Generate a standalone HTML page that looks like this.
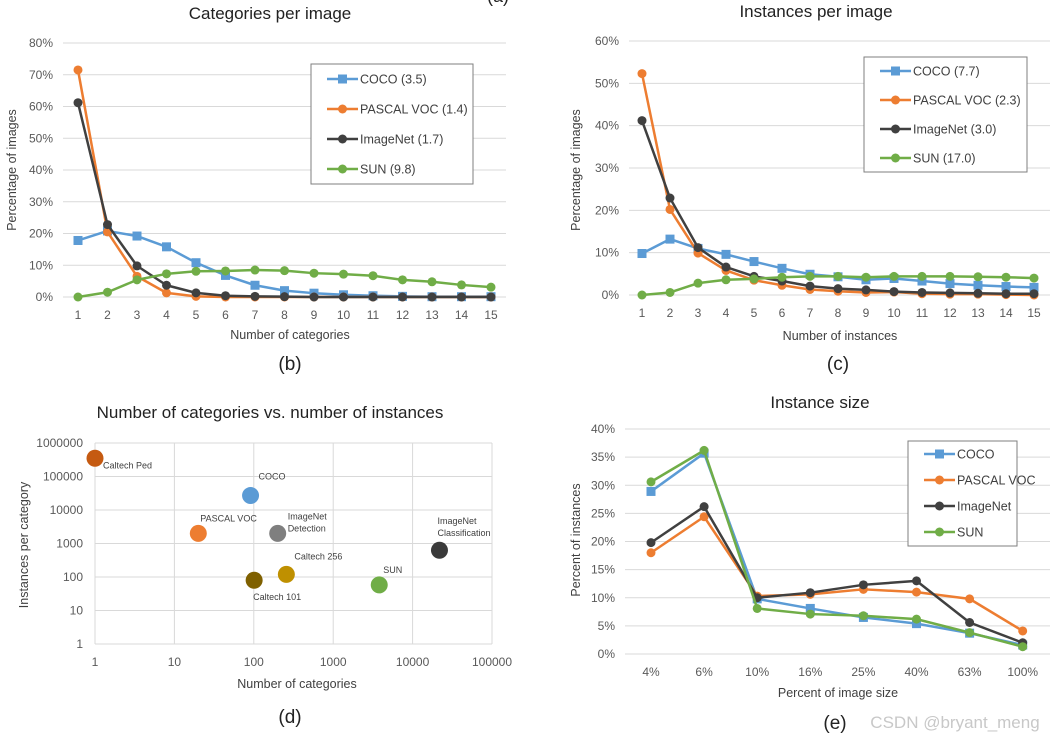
<!DOCTYPE html>
<html><head><meta charset="utf-8"><style>
html,body{margin:0;padding:0;background:#fff;}
svg{display:block;font-family:"Liberation Sans","DejaVu Sans",sans-serif;}
</style></head><body>
<svg id="fig" width="1057" height="740" viewBox="0 0 1057 740"></svg>
<script>
// ---- chart (b) data ----
const bCats = [1,2,3,4,5,6,7,8,9,10,11,12,13,14,15];
const bCoco = [17.8,20.8,19.2,15.8,10.8,6.8,3.7,2,1.2,0.7,0.4,0.2,0.1,0.1,0.1];
const bVoc = [71.5,20.5,6.5,1.3,0.2,0,0,0,0,0,0,0,0,0,0];
const bImnet = [61.2,22.8,9.8,3.7,1.3,0.4,0.2,0.1,0,0,0,0,0,0,0];
const bSun = [0,1.5,5.4,7.3,8.1,8.2,8.5,8.3,7.5,7.2,6.7,5.4,4.8,3.8,3.1];
const bTicks = [0,10,20,30,40,50,60,70,80];
const bLegend = ["COCO (3.5)","PASCAL VOC (1.4)","ImageNet (1.7)","SUN (9.8)"];
// ---- chart (c) data ----
const cCats = [1,2,3,4,5,6,7,8,9,10,11,12,13,14,15];
const cCoco = [9.8,13.2,11,9.6,7.9,6.3,4.9,4.3,3.6,3.9,3.3,2.7,2.3,2,1.8];
const cVoc = [52.3,20.2,9.9,5.8,3.5,2.3,1.3,0.9,0.6,0.7,0.3,0.2,0.2,0.1,0];
const cImnet = [41.2,22.9,11.2,6.6,4.4,3.3,2.1,1.5,1.2,0.8,0.6,0.5,0.4,0.3,0.3];
const cSun = [0,0.6,2.8,3.6,3.8,4.2,4.4,4.4,4.2,4.4,4.4,4.4,4.3,4.2,4.0];
const cTicks = [0,10,20,30,40,50,60];
const cLegend = ["COCO (7.7)","PASCAL VOC (2.3)","ImageNet (3.0)","SUN (17.0)"];
// ---- chart (d) data ----
const dNames = ["Caltech Ped","COCO","PASCAL VOC","ImageNet Detection","ImageNet Classification","Caltech 256","Caltech 101","SUN"];
const dCategories = [1,91,20,200,21800,257,101,3800];
const dInstances = [350000,27000,2000,2000,630,120,80,58];
const dColors = ["#c55a11","#5b9bd5","#ed7d31","#7f7f7f","#3a3a3a","#bf9000","#7f6000","#70ad47"];
const dXTicks = [1,10,100,1000,10000,100000];
const dYTicks = [1,10,100,1000,10000,100000,1000000];
// ---- chart (e) data ----
const eCats = ["4%","6%","10%","16%","25%","40%","63%","100%"];
const eCoco = [28.9,35.7,9.8,8.1,6.5,5.4,3.7,1.6];
const eVoc = [18,24.4,10.3,10.6,11.5,11,9.8,4.1];
const eImnet = [19.8,26.2,10,10.9,12.3,13,5.6,2];
const eSun = [30.6,36.2,8.1,7.1,6.8,6.2,3.8,1.3];
const eTicks = [0,5,10,15,20,25,30,35,40];
const eLegend = ["COCO","PASCAL VOC","ImageNet","SUN"];

const NS="http://www.w3.org/2000/svg";
const svg=document.getElementById('fig');
const COLORS=["#5b9bd5","#ed7d31","#404040","#70ad47"];
function mk(tag,attrs,parent,text){const e=document.createElementNS(NS,tag);for(const k in attrs)e.setAttribute(k,attrs[k]);if(text!==undefined)e.textContent=text;(parent||svg).appendChild(e);return e;}

function lineChart(o){
  const g=mk('g',{});
  
  
  const y=v=>o.y0-(v-o.ymin)/(o.ymax-o.ymin)*(o.y0-o.y1);
  const x=i=>o.x0+i*o.step;
  o.ticks.forEach(t=>{
    const gl=mk('line',{x1:o.gx0,x2:o.gx1,y1:y(t),y2:y(t),stroke:'#d9d9d9','stroke-width':1},g);
    
    
    const tl=mk('text',{x:o.gx0-10,y:y(t)+4,'text-anchor':'end','font-size':12,fill:'#595959'},g,t+'%');
    
    
  });
  o.cats.forEach((c,i)=>{
    const tl=mk('text',{x:x(i),y:o.y0+22,'text-anchor':'middle','font-size':12,fill:'#595959'},g,c);
    
    
  });
  o.series.forEach((s,si)=>{
    const pts=s.map((v,i)=>x(i)+','+y(v)).join(' ');
    const pl=mk('polyline',{points:pts,fill:'none',stroke:COLORS[si],'stroke-width':2.5,'stroke-linejoin':'round'},g);
    
    
    s.forEach((v,i)=>{
      let m;
      if(si===0&&o.square) m=mk('rect',{x:x(i)-4.5,y:y(v)-4.5,width:9,height:9,fill:COLORS[si]},g);
      else m=mk('circle',{cx:x(i),cy:y(v),r:4.5,fill:COLORS[si]},g);
      
      
    });
  });
  // legend
  const L=o.legend;
  const lb=mk('rect',{x:L.x,y:L.y,width:L.w,height:L.h,fill:'#fff',stroke:'#7f7f7f','stroke-width':1},g);
  
  
  o.labels.forEach((t,i)=>{
    const ly=L.y+L.top+i*L.gap;
    const ll=mk('line',{x1:L.x+16,x2:L.x+47,y1:ly,y2:ly,stroke:COLORS[i],'stroke-width':2.5},g);
    
    
    if(i===0&&o.square) mk('rect',{x:L.x+27,y:ly-4.5,width:9,height:9,fill:COLORS[i]},g);
    else mk('circle',{cx:L.x+31.5,cy:ly,r:4.5,fill:COLORS[i]},g);
    const lt=mk('text',{x:L.x+49,y:ly+4.5,'font-size':12.5,fill:'#404040'},g,t);
    
    
  });
}

function text(x,y,s,size,name,opts){
  const t=mk('text',Object.assign({x:x,y:y,'text-anchor':'middle','font-size':size,fill:'#222'},opts||{}),svg,s);
  
  
  return t;
}

// (b)
lineChart({name:'chart-categories-per-image',y0:297,y1:43,ymin:0,ymax:80,x0:78,step:29.5,gx0:63,gx1:506,
  ticks:bTicks,cats:bCats,series:[bCoco,bVoc,bImnet,bSun],square:true,labels:bLegend,
  legend:{x:311,y:64,w:162,h:120,top:15,gap:30}});
text(270,19,'Categories per image',17,'chart-b-title');
text(498,2,'(a)',18,'panel-a-label');
text(290,339,'Number of categories',12.5,'chart-b-x-axis-title',{fill:'#404040'});
text(16,170,'Percentage of images',12.5,'chart-b-y-axis-title',{fill:'#404040',transform:'rotate(-90 16 170)'});
text(290,370,'(b)',19,'panel-b-label');

// (c)
lineChart({name:'chart-instances-per-image',y0:295,y1:41,ymin:0,ymax:60,x0:642,step:28,gx0:629,gx1:1050,
  ticks:cTicks,cats:cCats,series:[cCoco,cVoc,cImnet,cSun],square:true,labels:cLegend,
  legend:{x:864,y:57,w:163,h:115,top:14,gap:29}});
text(816,17,'Instances per image',17,'chart-c-title');
text(840,340,'Number of instances',12.5,'chart-c-x-axis-title',{fill:'#404040'});
text(580,170,'Percentage of images',12.5,'chart-c-y-axis-title',{fill:'#404040',transform:'rotate(-90 580 170)'});
text(838,370,'(c)',19,'panel-c-label');

// (e)
lineChart({name:'chart-instance-size',y0:654,y1:429,ymin:0,ymax:40,x0:651,step:53.1,gx0:625,gx1:1050,
  ticks:eTicks,cats:eCats,series:[eCoco,eVoc,eImnet,eSun],square:true,labels:eLegend,
  legend:{x:908,y:441,w:109,h:105,top:13,gap:26}});
text(820,408,'Instance size',17,'chart-e-title');
text(838,697,'Percent of image size',12.5,'chart-e-x-axis-title',{fill:'#404040'});
text(580,540,'Percent of instances',12.5,'chart-e-y-axis-title',{fill:'#404040',transform:'rotate(-90 580 540)'});
text(835,729,'(e)',19,'panel-e-label');
text(955,728,'CSDN @bryant_meng',17,'watermark',{fill:'#c8c8c8'});

// (d) scatter (log-log)
(function(){
  const g=mk('g',{});
  
  
  const X0=95,X1=492,Y0=644,Y1=443;
  const xs=v=>X0+Math.log10(v)/5*(X1-X0);
  const ys=v=>Y0-Math.log10(v)/6*(Y0-Y1);
  dXTicks.forEach(t=>{
    const l=mk('line',{x1:xs(t),x2:xs(t),y1:Y1,y2:Y0,stroke:'#d9d9d9'},g);
    
    
    const tl=mk('text',{x:xs(t),y:Y0+22,'text-anchor':'middle','font-size':12,fill:'#595959'},g,t);
    
    
  });
  dYTicks.forEach(t=>{
    const l=mk('line',{x1:X0,x2:X1,y1:ys(t),y2:ys(t),stroke:'#d9d9d9'},g);
    
    
    const tl=mk('text',{x:X0-12,y:ys(t)+4,'text-anchor':'end','font-size':12,fill:'#595959'},g,t);
    
    
  });
  const labelPos=[[8,10,'start'],[8,-16,'start'],[2,-12,'start'],[10,-14,'start'],[-2,-26,'start'],[8,-15,'start'],[-1,20,'start'],[4,-12,'start']];
  dNames.forEach((n,i)=>{
    const cx=xs(dCategories[i]),cy=ys(dInstances[i]);
    const c=mk('circle',{cx:cx,cy:cy,r:8.5,fill:dColors[i]},g);
    
    
    const p=labelPos[i];
    const parts=n.startsWith('ImageNet')?n.split(' '):[n];
    parts.forEach((s,k)=>{
      const t=mk('text',{x:cx+p[0],y:cy+p[1]+k*12,'font-size':9,fill:'#404040','text-anchor':p[2]},g,s);
      
      
    });
  });
})();
text(270,418,'Number of categories vs. number of instances',17,'chart-d-title');
text(297,688,'Number of categories',12.5,'chart-d-x-axis-title',{fill:'#404040'});
text(28,545,'Instances per category',12.5,'chart-d-y-axis-title',{fill:'#404040',transform:'rotate(-90 28 545)'});
text(290,723,'(d)',19,'panel-d-label');
</script>
</body></html>
